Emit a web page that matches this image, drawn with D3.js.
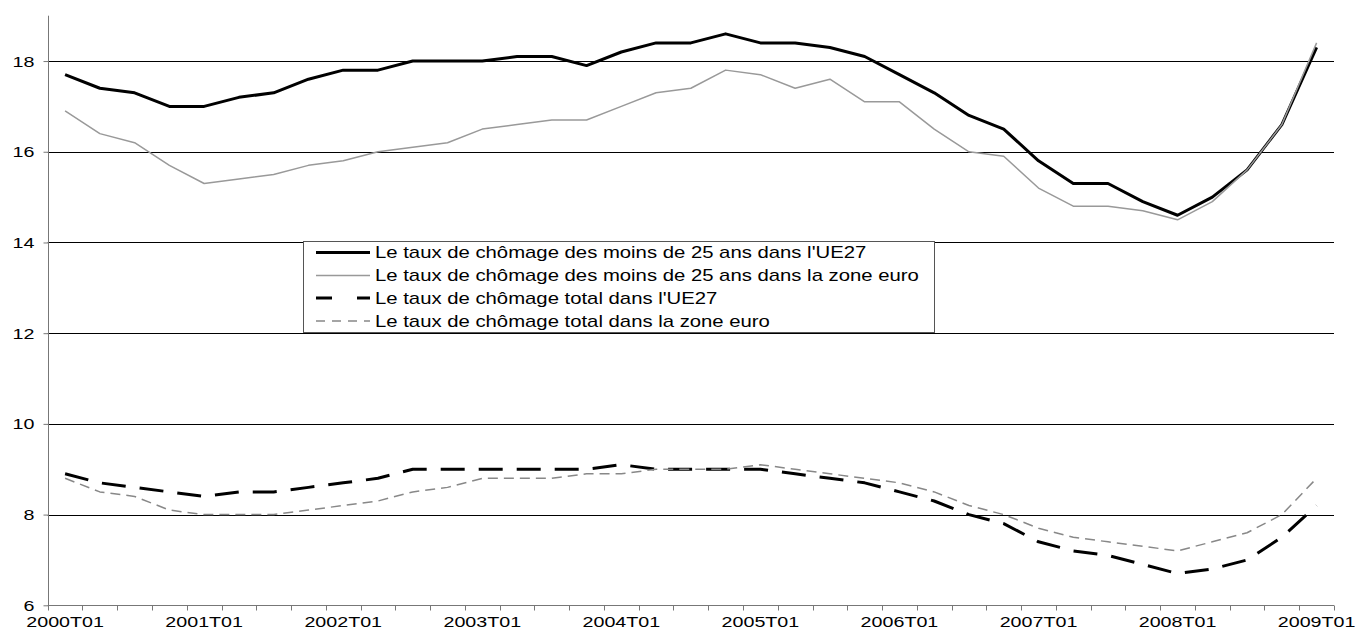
<!DOCTYPE html>
<html>
<head>
<meta charset="utf-8">
<script src="https://cdn.jsdelivr.net/npm/d3@7"></script>
<style>
  html, body { margin: 0; padding: 0; background: #fff; }
  svg { display: block; }
  text { font-family: "Liberation Sans", Arial, sans-serif; fill: #000; }
</style>
</head>
<body>
<svg id="chart" width="1357" height="634"></svg>
<script>
// ---------- data ----------
const years = ["2000","2001","2002","2003","2004","2005","2006","2007","2008","2009"];
const quarters = ["T01","T02","T03","T04"];
const categories = [];
years.forEach(yr => quarters.forEach(q => { if (categories.length < 37) categories.push(yr + q); }));

const youthEU27 = [17.7,17.4,17.3,17.0,17.0,17.2,17.3,17.6,17.8,17.8,18.0,18.0,18.0,18.1,18.1,17.9,18.2,18.4,18.4,18.6,18.4,18.4,18.3,18.1,17.7,17.3,16.8,16.5,15.8,15.3,15.3,14.9,14.6,15.0,15.6,16.6,18.3];
const youthEuro  = [16.9,16.4,16.2,15.7,15.3,15.4,15.5,15.7,15.8,16.0,16.1,16.2,16.5,16.6,16.7,16.7,17.0,17.3,17.4,17.8,17.7,17.4,17.6,17.1,17.1,16.5,16.0,15.9,15.2,14.8,14.8,14.7,14.5,14.9,15.6,16.6,18.4];
const totalEU27  = [8.9,8.7,8.6,8.5,8.4,8.5,8.5,8.6,8.7,8.8,9.0,9.0,9.0,9.0,9.0,9.0,9.1,9.0,9.0,9.0,9.0,8.9,8.8,8.7,8.5,8.3,8.0,7.8,7.4,7.2,7.1,6.9,6.7,6.8,7.0,7.5,8.2];
const totalEuro  = [8.8,8.5,8.4,8.1,8.0,8.0,8.0,8.1,8.2,8.3,8.5,8.6,8.8,8.8,8.8,8.9,8.9,9.0,9.0,9.0,9.1,9.0,8.9,8.8,8.7,8.5,8.2,8.0,7.7,7.5,7.4,7.3,7.2,7.4,7.6,8.0,8.8];

const seriesNames = [
  "Le taux de chômage des moins de 25 ans dans l'UE27",
  "Le taux de chômage des moins de 25 ans dans la zone euro",
  "Le taux de chômage total dans l'UE27",
  "Le taux de chômage total dans la zone euro"
];
const yTicks = [6, 8, 10, 12, 14, 16, 18];
const xLabelCats = categories.filter(c => c.endsWith("T01"));

// ---------- layout / styles ----------
const series = [
  { name: seriesNames[0], values: youthEU27, color: "#000", width: 3, dash: null, legendDash: null },
  { name: seriesNames[1], values: youthEuro, color: "#999", width: 1.5, dash: null, legendDash: null },
  { name: seriesNames[2], values: totalEU27, color: "#000", width: 3, dash: "24,14", legendDash: "16,25,13" },
  { name: seriesNames[3], values: totalEuro, color: "#888", width: 1.5, dash: "10,6", legendDash: "9,7" }
];

const svg = d3.select("#chart");
const pLeft = 47.7, pRight = 1334, pTop = 15.7, pBottom = 605.3;
const SX = 1.27; // horizontal stretch of text in the reference

const x = d3.scaleBand().domain(categories).range([pLeft, pRight]).padding(0);
const y = d3.scaleLinear().domain([6, 19]).range([pBottom, pTop]);

// gridlines
svg.append("g").selectAll("line")
  .data(yTicks.filter(v => v > 6))
  .join("line")
  .attr("x1", pLeft).attr("x2", pRight)
  .attr("y1", d => Math.round(y(d)) + 0.5).attr("y2", d => Math.round(y(d)) + 0.5)
  .attr("stroke", "#000").attr("stroke-width", 1);

// y axis
const yAxis = svg.append("g").attr("transform", `translate(${Math.round(pLeft)+0.5},0)`)
  .call(d3.axisLeft(y).tickValues(yTicks).tickSize(5).tickSizeOuter(0).tickPadding(4));
yAxis.select(".domain").attr("stroke", "#777").attr("d", `M0,${pTop}V${pBottom}`);
yAxis.selectAll(".tick line").attr("stroke", "#777");
yAxis.selectAll(".tick text")
  .attr("font-size", 15.5)
  .attr("font-family", "Liberation Sans, Arial, sans-serif")
  .attr("fill", "#000")
  .attr("x", 0).attr("dx", 0)
  .attr("transform", `translate(-14,0) scale(${SX},1)`)
  .attr("text-anchor", "end");

// x axis: ticks at category boundaries
const xg = svg.append("g").attr("transform", `translate(0,${Math.round(pBottom)+0.5})`);
xg.append("line").attr("x1", pLeft).attr("x2", pRight).attr("y1", 0).attr("y2", 0).attr("stroke", "#777");
const boundaries = categories.map(c => x(c)).concat([x(categories[categories.length-1]) + x.bandwidth()]);
xg.selectAll("line.tk").data(boundaries).join("line").attr("class","tk")
  .attr("x1", d => Math.round(d)+0.5).attr("x2", d => Math.round(d)+0.5)
  .attr("y1", 0).attr("y2", 5).attr("stroke", "#777");
xg.selectAll("text").data(xLabelCats).join("text")
  .attr("transform", d => `translate(${x(d) + x.bandwidth()/2},21) scale(${SX},1)`)
  .attr("text-anchor", "middle")
  .attr("font-size", 15.5)
  .text(d => d);

// lines
const line = d3.line()
  .x((d, i) => x(categories[i]) + x.bandwidth()/2)
  .y(d => y(d));

series.forEach(s => {
  svg.append("path")
    .datum(s.values)
    .attr("d", line)
    .attr("fill", "none")
    .attr("stroke", s.color)
    .attr("stroke-width", s.width)
    .attr("stroke-linejoin", "round")
    .attr("stroke-dasharray", s.dash);
});

// legend
const lg = svg.append("g");
lg.append("rect")
  .attr("x", 303.5).attr("y", 241.5).attr("width", 631).attr("height", 91)
  .attr("fill", "#fff").attr("stroke", "#555").attr("stroke-width", 1);
const rowY = [252.5, 275.5, 298, 321];
series.forEach((s, i) => {
  lg.append("line")
    .attr("x1", 316).attr("x2", 370)
    .attr("y1", rowY[i]).attr("y2", rowY[i])
    .attr("stroke", s.color).attr("stroke-width", s.width)
    .attr("stroke-dasharray", s.legendDash);
  lg.append("text")
    .attr("transform", `translate(375,${rowY[i] + 5.8}) scale(${SX},1)`)
    .attr("font-size", 16)
    .text(s.name);
});
</script>
</body>
</html>
